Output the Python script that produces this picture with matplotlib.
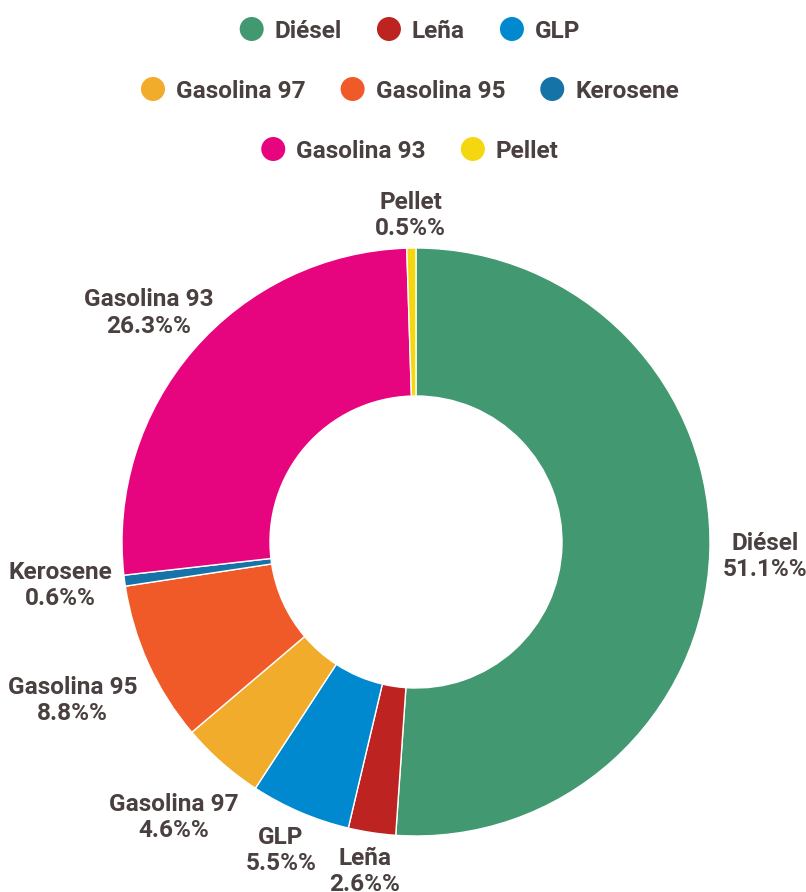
import numpy as np
import matplotlib.pyplot as plt
from matplotlib.patches import Circle

plt.rcParams["font.family"] = ["Roboto", "DejaVu Sans"]

categories = ["Diésel", "Leña", "GLP", "Gasolina 97", "Gasolina 95",
              "Kerosene", "Gasolina 93", "Pellet"]
shares = [51.1, 2.6, 5.5, 4.6, 8.8, 0.6, 26.3, 0.5]
colors = ["#429871", "#bd2320", "#0089ce", "#f0ac2a", "#f05a28",
          "#1573a8", "#e6057f", "#f5d70f"]
legend_rows = [[0, 1, 2], [3, 4, 5], [6, 7]]

text_color = "#4a4040"
fsize = 17.6

W, H = 806, 892
fig = plt.figure(figsize=(W / 100, H / 100), dpi=100)
ax = fig.add_axes([0, 0, 1, 1])

cx, cy = 416, H - 542
r_out = 294
ring = 148

wedges, _ = ax.pie(
    shares,
    colors=colors,
    startangle=90,
    counterclock=False,
    radius=r_out,
    center=(cx, cy),
    wedgeprops=dict(width=ring, edgecolor="white", linewidth=1),
)

ax.set_xlim(0, W)
ax.set_ylim(0, H)
ax.set_aspect("equal")
ax.axis("off")

# slice labels, pushed outward like an "end" aligned datalabel
label_offset = 13
label_shift = [(0, -3), (0, -2), (0, -4), (4, -27), (-5, -21), (0, 0), (14, 12), (0, -5)]

labels = []
for w, name, val in zip(wedges, categories, shares):
    t = ax.text(0, 0, f"{name}\n{val:.1f}%%", ha="center", va="center",
                multialignment="center", fontsize=fsize, fontweight="bold",
                color=text_color, linespacing=1.18)
    labels.append(t)

fig.canvas.draw()
renderer = fig.canvas.get_renderer()

for w, t, (sx, sy) in zip(wedges, labels, label_shift):
    theta = np.deg2rad((w.theta1 + w.theta2) / 2)
    dx, dy = np.cos(theta), np.sin(theta)
    bb = t.get_window_extent(renderer)
    hw, hh = bb.width / 2, bb.height / 2
    px = cx + (r_out + label_offset) * dx + dx * hw + sx
    py = cy + (r_out + label_offset) * dy + dy * hh + sy
    t.set_position((px, py))

# legend, centered rows of dot + label
dot_r = 12
gap = 11
spacing = 35
row_y = [29, 89, 149]
legend_cx = 410

for row, yy in zip(legend_rows, row_y):
    y = H - yy
    texts = []
    widths = []
    for i in row:
        t = ax.text(0, y, categories[i], ha="left", va="center_baseline",
                    fontsize=fsize, fontweight="bold", color=text_color)
        texts.append(t)
        widths.append(t.get_window_extent(renderer).width)
    total = sum(2 * dot_r + gap + wd for wd in widths) + spacing * (len(row) - 1)
    x = legend_cx - total / 2
    for i, t, wd in zip(row, texts, widths):
        ax.add_patch(Circle((x + dot_r, y), dot_r, color=colors[i], lw=0))
        t.set_position((x + 2 * dot_r + gap, y))
        x += 2 * dot_r + gap + wd + spacing

fig.savefig("out.png", dpi=100, facecolor="white")
